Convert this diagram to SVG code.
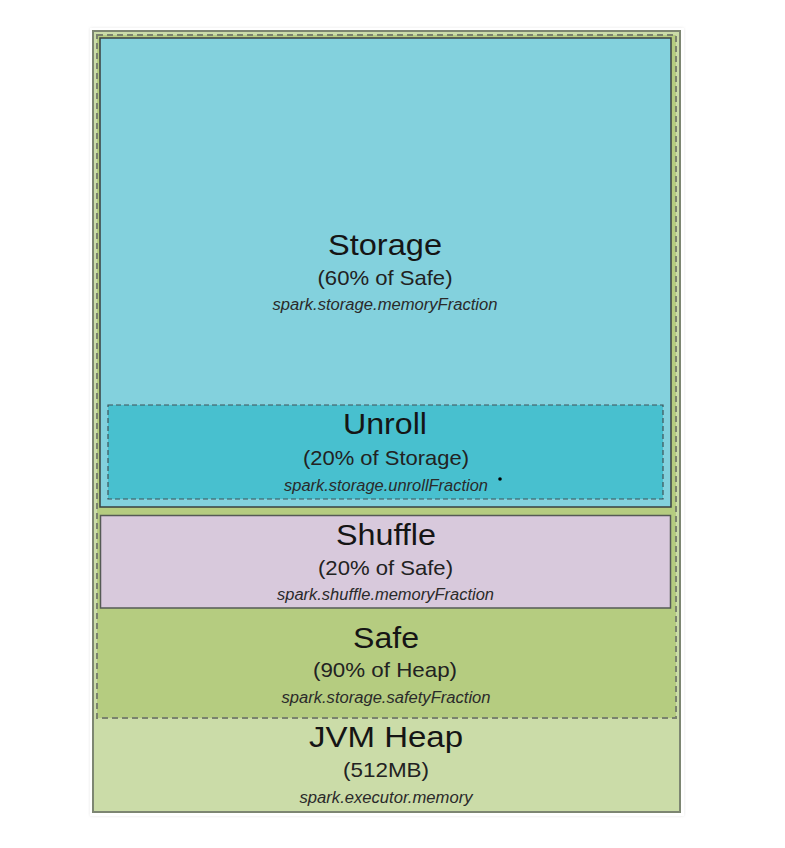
<svg xmlns="http://www.w3.org/2000/svg" width="785" height="848" viewBox="0 0 785 848">
<defs>
<filter id="sh" x="-5%" y="-5%" width="110%" height="110%">
<feGaussianBlur stdDeviation="1.5"/>
</filter>
</defs>
<style>
.t1{font-family:"Liberation Sans",Arial,sans-serif;font-size:29px;fill:#151515;text-anchor:middle}
.t2{font-family:"Liberation Sans",Arial,sans-serif;font-size:21px;fill:#222;text-anchor:middle}
.t3{font-family:"Liberation Sans",Arial,sans-serif;font-size:16px;font-style:italic;fill:#2a2a2a;text-anchor:middle}
</style>
<rect width="785" height="848" fill="#ffffff"/>
<rect x="90" y="28" width="594" height="788" fill="#e6e6e6" filter="url(#sh)"/>
<rect x="90" y="28" width="594" height="788" fill="#ffffff"/>
<g id="heap">
<rect x="93" y="31" width="587" height="781" fill="#cbdca8" stroke="#7d8672" stroke-width="2"/>
<text class="t1" x="386" y="747" textLength="154" lengthAdjust="spacingAndGlyphs">JVM Heap</text>
<text class="t2" x="386" y="777" textLength="86" lengthAdjust="spacingAndGlyphs">(512MB)</text>
<text class="t3" x="386" y="803" textLength="173" lengthAdjust="spacingAndGlyphs">spark.executor.memory</text>
</g>
<g id="safe">
<rect x="97" y="35" width="579" height="683" fill="#b5cc80" stroke="#7a826e" stroke-width="2" stroke-dasharray="6,4"/>
<text class="t1" x="386" y="648" textLength="66" lengthAdjust="spacingAndGlyphs">Safe</text>
<text class="t2" x="385" y="677" textLength="144" lengthAdjust="spacingAndGlyphs">(90% of Heap)</text>
<text class="t3" x="386" y="703" textLength="209" lengthAdjust="spacingAndGlyphs">spark.storage.safetyFraction</text>
</g>
<g id="storage">
<rect x="100" y="38" width="571" height="469" fill="#83d1dd" stroke="#3a3f3f" stroke-width="1.5"/>
<text class="t1" x="385" y="255" textLength="114" lengthAdjust="spacingAndGlyphs">Storage</text>
<text class="t2" x="385" y="285" textLength="135" lengthAdjust="spacingAndGlyphs">(60% of Safe)</text>
<text class="t3" x="385" y="310" textLength="225" lengthAdjust="spacingAndGlyphs">spark.storage.memoryFraction</text>
</g>
<g id="unroll">
<rect x="108" y="405" width="555" height="94" fill="#48c0cf" stroke="#3f5358" stroke-width="1.2" stroke-dasharray="5,3"/>
<text class="t1" x="385" y="434" textLength="84" lengthAdjust="spacingAndGlyphs">Unroll</text>
<text class="t2" x="386" y="465" textLength="166" lengthAdjust="spacingAndGlyphs">(20% of Storage)</text>
<text class="t3" x="386" y="491" textLength="204" lengthAdjust="spacingAndGlyphs">spark.storage.unrollFraction</text>
<circle cx="500" cy="479" r="1.8" fill="#000"/>
</g>
<g id="shuffle">
<rect x="100.5" y="515.5" width="570" height="92.5" fill="#d8c9dc" stroke="#555a55" stroke-width="1.5"/>
<text class="t1" x="386" y="545" textLength="100" lengthAdjust="spacingAndGlyphs">Shuffle</text>
<text class="t2" x="385.5" y="575" textLength="135" lengthAdjust="spacingAndGlyphs">(20% of Safe)</text>
<text class="t3" x="385.5" y="600" textLength="217" lengthAdjust="spacingAndGlyphs">spark.shuffle.memoryFraction</text>
</g>
<g id="connectors"></g>
</svg>
